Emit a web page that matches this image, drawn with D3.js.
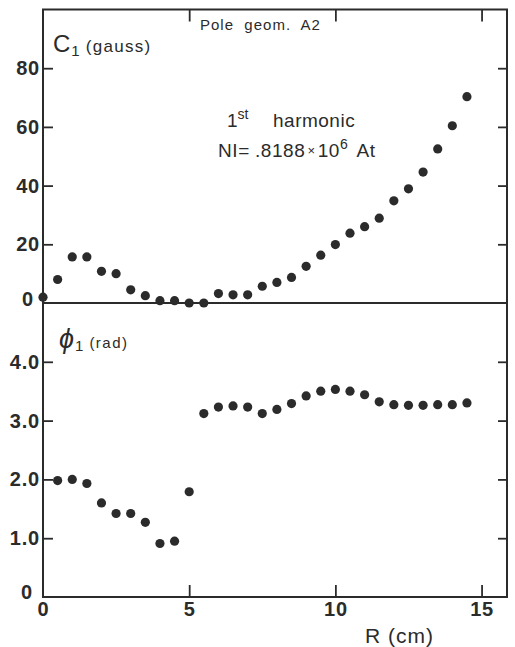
<!DOCTYPE html>
<html>
<head>
<meta charset="utf-8">
<script src="https://cdn.jsdelivr.net/npm/d3@7"></script>
<style>
  html, body { margin: 0; padding: 0; background: #fff; }
  svg { display: block; }
  text { fill: #2b2b2b; font-family: "Liberation Sans", Arial, sans-serif; }
</style>
</head>
<body>
<svg id="chart" width="515" height="647"></svg>
<script>
// ---- data ----
const rTop = [0, 0.5, 1, 1.5, 2, 2.5, 3, 3.5, 4, 4.5, 5, 5.5, 6, 6.5, 7, 7.5, 8, 8.5, 9, 9.5, 10, 10.5, 11, 11.5, 12, 12.5, 13, 13.5, 14, 14.5];
const c1Values = [2, 8, 15.7, 15.7, 10.8, 10, 4.5, 2.5, 0.8, 0.8, 0, 0, 3.2, 2.8, 2.8, 5.7, 7.0, 8.7, 12.5, 16.3, 19.9, 23.8, 26, 28.9, 34.8, 38.9, 44.6, 52.5, 60.4, 70.3];
const rBottom = [0.5, 1, 1.5, 2, 2.5, 3, 3.5, 4, 4.5, 5, 5.5, 6, 6.5, 7, 7.5, 8, 8.5, 9, 9.5, 10, 10.5, 11, 11.5, 12, 12.5, 13, 13.5, 14, 14.5];
const phiValues = [1.98, 2.00, 1.93, 1.60, 1.42, 1.42, 1.27, 0.91, 0.95, 1.79, 3.12, 3.23, 3.25, 3.23, 3.12, 3.19, 3.29, 3.42, 3.50, 3.53, 3.50, 3.44, 3.32, 3.27, 3.26, 3.26, 3.27, 3.27, 3.30];
const xTicks = [0, 5, 10, 15];
const c1Ticks = [0, 20, 40, 60, 80];
const phiTicks = [0, 1, 2, 3, 4];
const phiTickLabels = ["0", "1.0", "2.0", "3.0", "4.0"];

// ---- layout ----
const svg = d3.select("#chart");
const L = 43, R = 507, T = 9.5, M = 303, B = 597;
const ink = "#2b2b2b";

const x = d3.scaleLinear().domain([0, 15.87]).range([L, R]);
const yTop = d3.scaleLinear().domain([0, 100]).range([M, T]);
const yBot = d3.scaleLinear().domain([0, 5]).range([B, M]);

function styleAxis(g, labels) {
  g.select(".domain").remove();
  g.selectAll(".tick line").attr("stroke", ink).attr("stroke-width", 1.8);
  g.selectAll(".tick text")
    .attr("fill", ink)
    .style("font-family", "'Liberation Sans', Arial, sans-serif")
    .style("font-weight", "bold")
    .style("font-size", "20px")
    .style("letter-spacing", "0.8px")
    .style("display", labels ? null : "none");
}

// Top panel left axis
svg.append("g").attr("transform", `translate(${L},0)`)
  .call(d3.axisLeft(yTop).tickValues(c1Ticks).tickSize(-10).tickPadding(3).tickFormat(d3.format("d")))
  .call(g => styleAxis(g, true))
  .call(g => g.selectAll(".tick").filter(d => d === 0).select("line").remove())
  .call(g => g.selectAll(".tick").filter(d => d === 0).select("text").attr("dx", -6).attr("dy", "0.1em"));

// Top panel right axis
svg.append("g").attr("transform", `translate(${R},0)`)
  .call(d3.axisRight(yTop).tickValues(c1Ticks.filter(d => d > 0)).tickSize(-9))
  .call(g => styleAxis(g, false));

// Top x ticks (inward)
svg.append("g").attr("transform", `translate(0,${T})`)
  .call(d3.axisTop(x).tickValues([5, 10, 15]).tickSize(-12))
  .call(g => styleAxis(g, false));

// Bottom panel left axis
svg.append("g").attr("transform", `translate(${L},0)`)
  .call(d3.axisLeft(yBot).tickValues(phiTicks).tickSize(-10).tickPadding(3).tickFormat((d, i) => phiTickLabels[i]))
  .call(g => styleAxis(g, true))
  .call(g => g.selectAll(".tick").filter(d => d === 0).select("line").remove())
  .call(g => g.selectAll(".tick").filter(d => d === 0).select("text").attr("dx", -7).attr("dy", "0.05em"));

// Bottom panel right axis
svg.append("g").attr("transform", `translate(${R},0)`)
  .call(d3.axisRight(yBot).tickValues(phiTicks.filter(d => d > 0)).tickSize(-9))
  .call(g => styleAxis(g, false));

// Bottom x axis
svg.append("g").attr("transform", `translate(0,${B})`)
  .call(d3.axisBottom(x).tickValues(xTicks).tickSize(-12).tickPadding(5).tickFormat(d3.format("d")))
  .call(g => styleAxis(g, true))
  .call(g => g.selectAll(".tick").filter(d => d === 0).select("line").remove());

// Frames
svg.append("rect").attr("x", L).attr("y", T).attr("width", R - L).attr("height", M - T)
  .attr("fill", "none").attr("stroke", ink).attr("stroke-width", 2);
svg.append("rect").attr("x", L).attr("y", M).attr("width", R - L).attr("height", B - M)
  .attr("fill", "none").attr("stroke", ink).attr("stroke-width", 2);

// Points
svg.append("g").selectAll("circle").data(rTop.map((r, i) => [r, c1Values[i]]))
  .join("circle").attr("cx", d => x(d[0])).attr("cy", d => yTop(d[1])).attr("r", 4.6).attr("fill", ink);
svg.append("g").selectAll("circle").data(rBottom.map((r, i) => [r, phiValues[i]]))
  .join("circle").attr("cx", d => x(d[0])).attr("cy", d => yBot(d[1])).attr("r", 4.6).attr("fill", ink);

// Annotations
const c1Label = svg.append("text").attr("x", 53).attr("y", 52);
c1Label.append("tspan").text("C").style("font-size", "24px");
c1Label.append("tspan").text("1").style("font-size", "15px").attr("dx", 1).attr("dy", 4);
c1Label.append("tspan").text("(gauss)").style("font-size", "17px").style("letter-spacing", "1.3px").attr("dx", 6).attr("dy", -4);

svg.append("text").attr("x", 200).attr("y", 30).style("font-size", "15px").style("letter-spacing", "1px")
  .attr("xml:space", "preserve").text("Pole  geom.  A2");

const harm = svg.append("text").attr("x", 227).attr("y", 127).style("font-size", "19px");
harm.append("tspan").text("1");
harm.append("tspan").text("st").style("font-size", "14px").attr("dy", -8);
harm.append("tspan").text("harmonic").attr("x", 273).attr("dy", 8).style("letter-spacing", "0.5px");

const ni = svg.append("text").attr("x", 218).attr("y", 157).style("font-size", "19px").style("letter-spacing", "0.6px");
ni.append("tspan").text("NI=");
ni.append("tspan").text(".8188").attr("dx", 5);
ni.append("tspan").text("\u00d7").style("font-size", "13px").attr("dx", 2).attr("dy", -2);
ni.append("tspan").text("10").attr("dx", 2).attr("dy", 2);
ni.append("tspan").text("6").style("font-size", "14px").attr("dy", -8);
ni.append("tspan").text("At").attr("dx", 8).attr("dy", 8);

const phiLabel = svg.append("text").attr("x", 59).attr("y", 348);
phiLabel.append("tspan").text("\u03d5").style("font-size", "27px").style("font-style", "italic");
phiLabel.append("tspan").text("1").style("font-size", "15px").attr("dx", 1).attr("dy", 3);
phiLabel.append("tspan").text("(rad)").style("font-size", "15px").style("letter-spacing", "1.5px").attr("dx", 6).attr("dy", -3);

svg.append("text").attr("x", 365).attr("y", 643).style("font-size", "21px").style("letter-spacing", "1px")
  .text("R (cm)");
</script>
</body>
</html>
